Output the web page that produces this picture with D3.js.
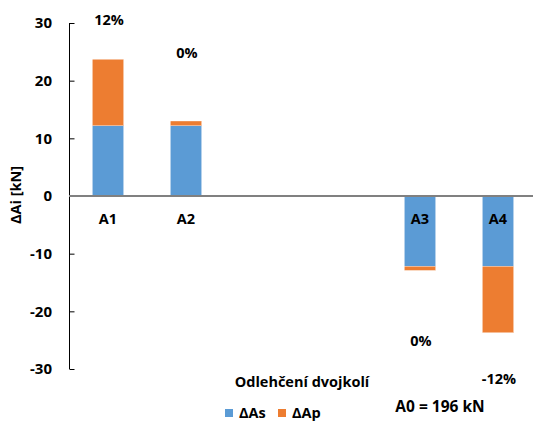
<!DOCTYPE html>
<html>
<head>
<meta charset="utf-8">
<script src="https://cdn.jsdelivr.net/npm/d3@7"></script>
<style>
  body { margin: 0; background: #fff; }
  svg text { font-family: "Open Sans", "Liberation Sans", sans-serif; font-weight: bold; fill: #000; }
</style>
</head>
<body>
<svg id="chart" width="533" height="423"></svg>
<script>
// Wheelset load changes: six category slots, two of them left empty
const slots = [0, 1, 2, 3, 4, 5];
const categories = ["A1", "A2", null, null, "A3", "A4"];
const deltaAs = [12.2, 12.2, null, null, -12.2, -12.2];
const deltaAp = [11.5, 0.8, null, null, -0.7, -11.5];
const percentLabels = ["12%", "0%", null, null, "0%", "-12%"];
const yTicks = [-30, -20, -10, 0, 10, 20, 30];
const seriesNames = ["ΔAs", "ΔAp"];
const colors = ["#5B9BD5", "#ED7D31"];

const svg = d3.select("#chart");
const plotLeft = 69, plotRight = 537, plotTop = 23, plotBottom = 369;

const x = d3.scaleBand().domain(slots).range([plotLeft, plotRight]).paddingInner(0.6).paddingOuter(0.3);
const y = d3.scaleLinear().domain([-30, 30]).range([plotBottom, plotTop]);

// stacked bars: ΔAs from zero, ΔAp continues from the end of ΔAs
const bars = [];
slots.forEach(i => {
  if (deltaAs[i] == null) return;
  bars.push({ i, y0: 0, y1: deltaAs[i], c: colors[0] });
  bars.push({ i, y0: deltaAs[i], y1: deltaAs[i] + deltaAp[i], c: colors[1] });
});
svg.append("g").selectAll("rect").data(bars).join("rect")
  .attr("x", d => x(d.i))
  .attr("width", x.bandwidth())
  .attr("y", d => y(Math.max(d.y0, d.y1)))
  .attr("height", d => Math.abs(y(d.y0) - y(d.y1)))
  .attr("fill", d => d.c)
  .attr("stroke", "#fff").attr("stroke-width", 0.25);

// y axis with inward ticks
const yAxis = svg.append("g").attr("transform", `translate(${plotLeft},0)`)
  .call(d3.axisRight(y).tickValues(yTicks).tickSize(5).tickFormat(""));
yAxis.select(".domain").attr("stroke", "#000").attr("d", `M0.5,${plotTop}V${plotBottom}`);
yAxis.selectAll(".tick line").attr("stroke", "#000").attr("transform", "translate(0.5,0)");
svg.append("g").selectAll("text").data(yTicks).join("text")
  .attr("x", 52).attr("y", d => y(d)).attr("dy", "0.36em")
  .attr("text-anchor", "end").attr("font-size", 15)
  .text(d => d);

// zero line
svg.append("line").attr("x1", plotLeft).attr("x2", 533)
  .attr("y1", y(0)).attr("y2", y(0))
  .attr("stroke", "#808080").attr("stroke-width", 2);

// category labels on the inner side of the zero line
const cx = i => x(i) + x.bandwidth() / 2;
svg.append("g").selectAll("text").data(slots.filter(i => categories[i])).join("text")
  .attr("x", cx).attr("y", y(0) + 23).attr("dy", "0.35em")
  .attr("text-anchor", "middle").attr("font-size", 14.5)
  .text(i => categories[i]);

// percentage labels
const pctY = [20, 53, null, null, 341, 379];
svg.append("g").selectAll("text").data(slots.filter(i => percentLabels[i])).join("text")
  .attr("x", i => cx(i) + 1).attr("y", i => pctY[i]).attr("dy", "0.35em")
  .attr("text-anchor", "middle").attr("font-size", 14.5)
  .text(i => percentLabels[i]);

// axis titles
svg.append("text").attr("transform", "translate(16,195) rotate(-90)")
  .attr("dy", "0.35em").attr("text-anchor", "middle").attr("font-size", 14.5)
  .text("ΔAi [kN]");
svg.append("text").attr("x", 302).attr("y", 382).attr("dy", "0.35em")
  .attr("text-anchor", "middle").attr("font-size", 14.5)
  .text("Odlehčení dvojkolí");
svg.append("text").attr("x", 440).attr("y", 407).attr("dy", "0.35em")
  .attr("text-anchor", "middle").attr("font-size", 15.5)
  .text("A0 = 196 kN");

// legend
const legendX = [225, 278];
const lg = svg.append("g").selectAll("g").data(seriesNames).join("g")
  .attr("transform", (d, i) => `translate(${legendX[i]},413)`);
lg.append("rect").attr("x", 0).attr("y", -4).attr("width", 8).attr("height", 8)
  .attr("fill", (d, i) => colors[i]);
lg.append("text").attr("x", 14).attr("y", 0).attr("dy", "0.35em")
  .attr("font-size", 14.5).text(d => d);
</script>
</body>
</html>
